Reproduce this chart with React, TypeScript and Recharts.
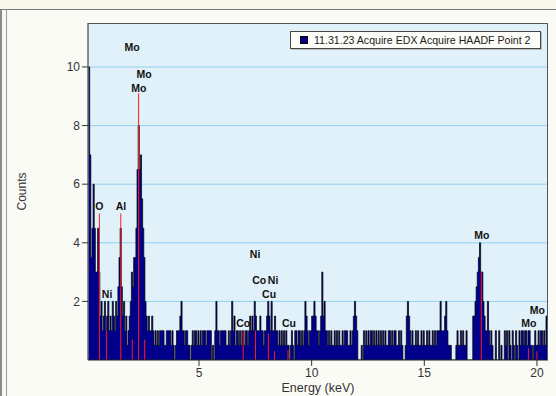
import {
  ComposedChart, Area, Scatter, XAxis, YAxis, CartesianGrid, ReferenceLine,
} from "recharts";

// channel calibration of the spectrum (keV)
const START_KEV = 0.1;
const STEP_KEV = 0.05;

// counts per channel, one row per keV
const COUNTS_0 = [10, 7, 3.5, 4.5, 6, 4.5, 3, 3, 4.5, 3, 1.5, 2, 1, 1.5, 2, 1, 1.5, 2, 1, 1.5];
const COUNTS_1 = [1, 2, 1.5, 1, 2, 1.5, 2.5, 3.5, 4.5, 2.5, 1.5, 2, 1, 1.5, 0.5, 1, 1.5, 2, 3, 2.5];
const COUNTS_2 = [3.5, 3.5, 4.5, 6.5, 8, 6.5, 7, 5.5, 4.5, 3.5, 2, 1.5, 1, 1.5, 1, 1, 1.5, 1, 0.5, 1];
const COUNTS_3 = [0.5, 1, 0.5, 1, 1, 1, 1, 0.5, 0.5, 1, 1, 1, 1, 0.5, 1, 0.5, 0, 0.5, 1, 1];
const COUNTS_4 = [1, 1.5, 2, 1, 1, 0.5, 1, 1, 0.5, 0.5, 0, 0.5, 1, 0.5, 1, 1, 0.5, 1, 0.5, 1];
const COUNTS_5 = [0.5, 1, 1, 1, 0.5, 1, 1, 1, 1, 0, 0.5, 0, 1, 2, 1, 1, 0.5, 1, 1, 1];
const COUNTS_6 = [1, 1, 0.5, 0.5, 1, 0.5, 1, 2, 1, 1.5, 0.5, 1, 1, 0.5, 1, 0.5, 1, 1, 0.5, 1];
const COUNTS_7 = [1, 0.5, 1, 1.5, 1, 1.5, 1, 2, 1.5, 1, 1, 1, 1.5, 1, 1, 0.5, 1, 1, 1.5, 2];
const COUNTS_8 = [1.5, 1, 2, 1, 1, 1.5, 1, 1, 0.5, 1, 0.5, 1, 0.5, 1, 0.5, 1, 0.5, 0.5, 0, 0.5];
const COUNTS_9 = [1, 0.5, 0, 1, 1, 0.5, 1, 1, 0.5, 1, 0.5, 1, 2, 1.5, 1, 0.5, 1, 1, 1.5, 1.5];
const COUNTS_10 = [2, 1.5, 1, 1, 0.5, 1, 1.5, 3, 1.5, 2, 1, 1, 0.5, 1, 0.5, 1, 0.5, 0.5, 1, 0.5];
const COUNTS_11 = [1, 0.5, 1, 0.5, 0.5, 1, 0.5, 1, 1, 1, 0.5, 0.5, 1, 0.5, 1, 1.5, 2, 1.5, 1, 0];
const COUNTS_12 = [0, 0, 0.5, 0, 1, 0.5, 1, 0.5, 1, 0.5, 1, 1, 0.5, 1, 0.5, 1, 0.5, 1, 0.5, 1];
const COUNTS_13 = [0.5, 1, 0.5, 1, 0.5, 0.5, 1, 1, 0.5, 1, 0.5, 1, 1, 0.5, 0.5, 1, 0.5, 1, 0.5, 0];
const COUNTS_14 = [0, 0.5, 1.5, 2, 1.5, 1, 0.5, 1, 0.5, 0.5, 1, 0.5, 1, 0.5, 0.5, 1, 0.5, 1, 0.5, 0.5];
const COUNTS_15 = [1, 0.5, 1, 0.5, 0.5, 1, 0.5, 1, 0.5, 1, 1, 1, 2, 1, 1, 1, 1.5, 2, 1, 0.5];
const COUNTS_16 = [0.5, 0.5, 0, 0, 0, 0, 0.5, 1, 0.5, 0.5, 1, 0.5, 1, 0.5, 0.5, 1, 0, 0, 0, 0];
const COUNTS_17 = [0, 1.5, 1.5, 2, 2.5, 3, 3.5, 4, 3, 3, 2, 1.5, 1, 1, 2, 1, 0.5, 1, 0.5, 0];
const COUNTS_18 = [0, 1, 0, 0, 1, 0, 0.5, 0, 0, 1, 0.5, 1, 0, 1, 0.5, 0, 1, 0.5, 0, 1];
const COUNTS_19 = [0.5, 0, 1, 0.5, 1, 1, 0.5, 1, 1, 0.5, 1, 1, 0.5, 0.5, 0, 0.5, 1, 0.5, 0.5, 1];
const COUNTS_20 = [0.5, 1, 1, 0.5, 1, 0.5, 1.5, 1];

const COUNTS = [
  ...COUNTS_0, ...COUNTS_1, ...COUNTS_2, ...COUNTS_3, ...COUNTS_4, ...COUNTS_5, ...COUNTS_6,
  ...COUNTS_7, ...COUNTS_8, ...COUNTS_9, ...COUNTS_10, ...COUNTS_11, ...COUNTS_12, ...COUNTS_13,
  ...COUNTS_14, ...COUNTS_15, ...COUNTS_16, ...COUNTS_17, ...COUNTS_18, ...COUNTS_19, ...COUNTS_20,
];

// element marker lines (red)
const LINE_KEV = [0.58, 0.9, 1.53, 2.04, 2.32, 2.59, 6.96, 7.51, 8.08, 8.35, 8.95, 17.53, 19.62, 20.0];
const LINE_TOP = [5, 1, 5, 0.7, 9.1, 0.7, 1, 1, 0.9, 0.3, 0.35, 3, 0.4, 0.3];

// element labels
const LABEL_TEXT = ["Mo", "Mo", "Mo", "O", "Al", "Ni", "Ni", "Co", "Ni", "Cu", "Co", "Cu", "Mo", "Mo", "Mo"];
const LABEL_KEV = [2.03, 2.56, 2.33, 0.58, 1.54, 0.92, 7.49, 7.67, 8.29, 8.11, 6.96, 8.99, 17.55, 20.02, 19.64];
const LABEL_CNT = [10.68, 9.76, 9.28, 5.26, 5.26, 2.25, 3.62, 2.73, 2.73, 2.25, 1.26, 1.26, 4.27, 1.71, 1.26];

const X_TICKS = [5, 10, 15, 20];
const Y_TICKS = [2, 4, 6, 8, 10];
const SERIES_NAME = "11.31.23 Acquire EDX Acquire HAADF Point 2";

const spectrum = COUNTS.map((c, i) => ({ e: +(START_KEV + i * STEP_KEV).toFixed(2), counts: c }));
const labels = LABEL_TEXT.map((t, i) => ({ e: LABEL_KEV[i], c: LABEL_CNT[i], name: t }));

const FONT = "'Liberation Sans', Arial, sans-serif";

// eslint-disable-next-line @typescript-eslint/no-explicit-any
function ElementLabel(props: any) {
  const { cx, cy, payload } = props;
  if (cx == null || cy == null) return null;
  return (
    <text x={cx} y={cy} textAnchor="middle" dominantBaseline="central"
      fontSize={10.5} fontWeight="bold" fill="#111" fontFamily={FONT}>
      {payload.name}
    </text>
  );
}

export default function App() {
  return (
    <div style={{
      position: "absolute", left: 0, top: 0, width: 556, height: 396,
      background: "#f8f8ef", fontFamily: FONT, overflow: "hidden",
    }}>
      {/* window frame */}
      <div style={{ position: "absolute", left: 0, top: 9, width: 556, height: 1, background: "#7a7a7a" }} />
      <div style={{ position: "absolute", left: 0, top: 10, width: 2, height: 386, background: "#8a8a8a" }} />
      <div style={{
        position: "absolute", left: 6, top: 10, width: 550, height: 386,
        borderLeft: "1px solid #9a9a9a", background: "#fbfbf6",
      }} />

      <div style={{ position: "absolute", left: 0, top: 0 }}>
        <ComposedChart width={556} height={396} data={spectrum}
          margin={{ top: 23, right: 8, bottom: 0, left: 0 }}>
          <CartesianGrid vertical={false} fill="#e1f1fa" stroke="#93d2ee" horizontalValues={Y_TICKS} />
          <XAxis
            dataKey="e" type="number" domain={[0.074, 20.49]} allowDataOverflow
            ticks={X_TICKS} height={36}
            tick={{ fill: "#333", fontSize: 12, fontFamily: FONT }}
            tickLine={{ stroke: "#333" }} axisLine={{ stroke: "#222" }}
            label={() => (
              <text x={318} y={392} textAnchor="middle" fontSize={12.5} fill="#333" fontFamily={FONT}>
                Energy (keV)
              </text>
            )}
          />
          <YAxis
            type="number" domain={[0, 11.5]} allowDataOverflow ticks={Y_TICKS} width={88}
            tick={{ fill: "#333", fontSize: 12, fontFamily: FONT }}
            tickLine={{ stroke: "#333" }} axisLine={{ stroke: "#222" }}
            label={() => (
              <text x={22} y={191.5} transform="rotate(-90 22 191.5)" textAnchor="middle"
                dominantBaseline="central" fontSize={12} fill="#333" fontFamily={FONT}>
                Counts
              </text>
            )}
          />
          <Area
            dataKey="counts" name={SERIES_NAME} type="stepAfter"
            stroke="#000" strokeWidth={0.7} fill="#00008b" fillOpacity={1}
            isAnimationActive={false} dot={false} activeDot={false}
          />
          {LINE_KEV.map((e, i) => (
            <ReferenceLine key={i} segment={[{ x: e, y: 0 }, { x: e, y: LINE_TOP[i] }]}
              stroke="#ff1a1a" strokeWidth={1} />
          ))}
          <Scatter data={labels} dataKey="c" shape={ElementLabel} isAnimationActive={false} legendType="none" />
        </ComposedChart>
      </div>

      {/* plot border */}
      <div style={{
        position: "absolute", left: 88, top: 23, width: 460, height: 337,
        borderTop: "1px solid #555", borderRight: "1px solid #555", boxSizing: "border-box",
        pointerEvents: "none",
      }} />

      {/* legend */}
      <div style={{
        position: "absolute", left: 290, top: 31, width: 249, height: 16,
        border: "1px solid #444", background: "#fcfcf8", boxShadow: "1px 1px 0 #bbb",
        display: "flex", alignItems: "center", fontSize: 10.6, color: "#222",
      }}>
        <span style={{
          display: "inline-block", width: 6, height: 6, background: "#00008b",
          border: "1px solid #000", marginLeft: 9, marginRight: 6,
        }} />
        {SERIES_NAME}
      </div>
    </div>
  );
}
